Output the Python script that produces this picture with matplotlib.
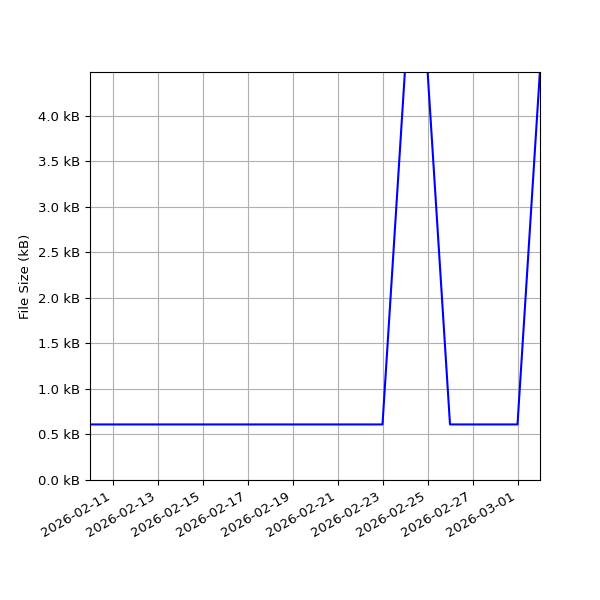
import numpy as np
import pandas as pd
import matplotlib
matplotlib.use('Agg')
import matplotlib.pyplot as plt
import matplotlib.dates as mdates
from matplotlib.ticker import FuncFormatter

plt.rcParams['font.size'] = 9.5

dates = pd.date_range('2026-02-10', '2026-03-02', freq='D')
size_kb = [0.61] * 14 + [4.5, 4.5] + [0.61] * 4 + [4.5]

fig, ax = plt.subplots(figsize=(6, 6), dpi=100)
fig.subplots_adjust(left=.15, right=.9, top=.88, bottom=.2)

ax.plot(dates, size_kb, color='b')
ax.set_xlim(dates[0], dates[-1])
ax.set_ylim(0, 4.48)
ax.set_ylabel('File Size (kB)')
ax.yaxis.set_major_formatter(FuncFormatter(lambda v, p: '%.1f kB' % v))
ax.xaxis.set_major_locator(mdates.DayLocator(bymonthday=range(1, 32, 2)))
ax.xaxis.set_major_formatter(mdates.DateFormatter('%Y-%m-%d'))
ax.grid(True)
fig.autofmt_xdate()

plt.savefig('out.png')
plt.close('all')
